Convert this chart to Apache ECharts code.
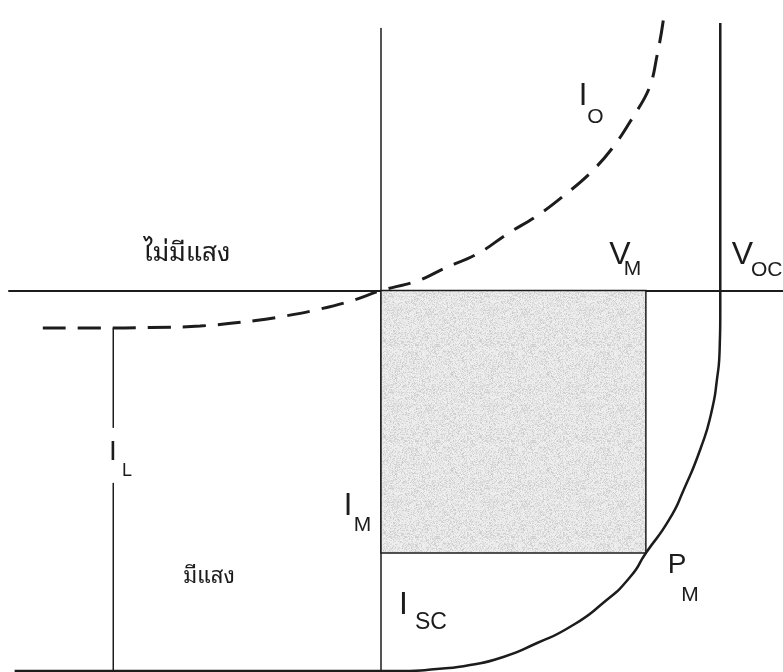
<!DOCTYPE html>
<html>
<head>
<meta charset="utf-8">
<script src="https://cdn.jsdelivr.net/npm/echarts@6/dist/echarts.min.js"></script>
<style>
  html, body { margin: 0; padding: 0; background: #ffffff; }
  #chart { width: 783px; height: 672px; }
</style>
</head>
<body>
<div id="chart"></div>
<script>
// Solar cell I-V characteristic: dark (ไม่มีแสง) and illuminated (มีแสง) curves.
// Voltage in volts, current in mA (positive upward).

// Dark diode current I_O (dashed)
const darkV = [-0.600, -0.499, -0.410, -0.321, -0.222, -0.170, -0.112, -0.051, 0.000,
               0.064, 0.112, 0.172, 0.224, 0.279, 0.326, 0.373, 0.412, 0.446, 0.476,
               0.490, 0.501, 0.502];
const darkI = [-3.55, -3.55, -3.50, -3.36, -2.84, -2.41, -1.80, -0.95, 0.00,
               0.90, 2.08, 3.50, 5.35, 7.14, 9.04, 11.21, 13.58, 16.32, 19.16,
               22.28, 25.59, 26.54];

// Illuminated characteristic (solid), ending in the open-circuit line
const lightV = [-0.650, 0.000, 0.039, 0.099, 0.158, 0.217, 0.277, 0.335, 0.394, 0.442, 0.470,
                0.511, 0.537, 0.568, 0.586, 0.596, 0.601, 0.602, 0.602];
const lightI = [-36.00, -36.00, -36.00, -35.81, -35.43, -34.67, -33.35, -31.84, -29.57, -27.11, -24.84,
                -21.71, -18.87, -14.81, -11.59, -8.47, -5.35, -2.00, 25.30];

// Key operating values
const vOC = 0.602;          // open-circuit voltage
const vM = 0.470;           // voltage at maximum power
const iM = -24.84;          // current at maximum power
const iSC = -36.00;         // short-circuit current
const iLVoltage = -0.475;   // where the photocurrent I_L is marked
const iLTop = -3.50;        // dark saturation level
const iLGapTop = -13.0;     // break in the I_L line for its label
const iLGapBottom = -18.2;

// Axis ranges
const vRange = [-0.66, 0.7133];
const iRange = [iSC, 24.8];

const pairs = (xs, ys) => xs.map((x, k) => [x, ys[k]]);

const INK = '#1c1c1c';
const LATIN = "'Liberation Sans', Arial, Helvetica, sans-serif";
const THAI = "'Noto Sans Thai Looped', Loma, Garuda, 'Noto Sans Thai', 'Noto Sans', 'DejaVu Sans', sans-serif";

// Stippled grey fill for the power rectangle (fixed integer hash, same grain every time)
function stipple() {
  const size = 96;
  const cv = document.createElement('canvas');
  cv.width = size; cv.height = size;
  const ctx = cv.getContext('2d');
  const img = ctx.createImageData(size, size);
  for (let y = 0; y < size; y++) {
    for (let x = 0; x < size; x++) {
      let h = Math.imul(x + 1, 0x27d4eb2d) ^ Math.imul(y + 7, 0x165667b1);
      h ^= h >>> 15; h = Math.imul(h, 0x85ebca6b);
      h ^= h >>> 13; h = Math.imul(h, 0xc2b2ae35);
      h ^= h >>> 16;
      const r = ((h >>> 0) & 0xffff) / 65535;
      const g = Math.round(240 - r * r * 38);
      const p = (y * size + x) * 4;
      img.data[p] = g; img.data[p + 1] = g; img.data[p + 2] = g; img.data[p + 3] = 255;
    }
  }
  ctx.putImageData(img, 0, 0);
  return cv;
}

function label(text, x, y, size, align, family) {
  return {
    type: 'text', x: x, y: y, z: 100,
    style: {
      text: text, fontSize: size, fontFamily: family || LATIN, fontWeight: 'normal',
      fill: INK, align: align || 'center', verticalAlign: 'middle'
    }
  };
}

const chart = echarts.init(document.getElementById('chart'), null, { renderer: 'canvas' });

chart.setOption({
  animation: false,
  backgroundColor: '#ffffff',
  grid: { left: 9, width: 774, top: 28.4, height: 642.6, containLabel: false },
  xAxis: {
    type: 'value', min: vRange[0], max: vRange[1],
    axisLine: { show: true, onZero: true, lineStyle: { color: INK, width: 2 } },
    axisTick: { show: false }, axisLabel: { show: false }, splitLine: { show: false }
  },
  yAxis: {
    type: 'value', min: iRange[0], max: iRange[1],
    axisLine: { show: true, onZero: true, lineStyle: { color: INK, width: 1.5 } },
    axisTick: { show: false }, axisLabel: { show: false }, splitLine: { show: false }
  },
  series: [
    {
      // maximum-power rectangle V_M x I_M
      type: 'line', z: 1, symbol: 'none', silent: true,
      data: [[0, 0]], lineStyle: { width: 0 },
      markArea: {
        silent: true,
        itemStyle: {
          color: { image: stipple(), repeat: 'repeat' },
          borderColor: INK, borderWidth: 1.5
        },
        data: [[{ coord: [0, 0] }, { coord: [vM, iM] }]]
      }
    },
    {
      // I_L photocurrent marker (upper and lower parts around its label)
      type: 'line', z: 3, symbol: 'none', silent: true, clip: false,
      data: [[iLVoltage, iLTop], [iLVoltage, iLGapTop]],
      lineStyle: { color: INK, width: 1.5 }
    },
    {
      type: 'line', z: 3, symbol: 'none', silent: true, clip: false,
      data: [[iLVoltage, iLGapBottom], [iLVoltage, iSC]],
      lineStyle: { color: INK, width: 1.5 }
    },
    {
      // dark current I_O
      type: 'line', z: 4, symbol: 'none', silent: true, clip: false, smooth: 0.4,
      data: pairs(darkV, darkI),
      lineStyle: { color: INK, width: 3, type: [23, 12] }
    },
    {
      // illuminated characteristic through P_M up to V_OC
      type: 'line', z: 5, symbol: 'none', silent: true, clip: false, smooth: 0.6,
      data: pairs(lightV, lightI),
      lineStyle: { color: INK, width: 2.5 }
    }
  ],
  graphic: [
    label('ไม่มีแสง', 187, 254, 26, 'center', THAI),
    label('มีแสง', 209, 577, 22, 'center', THAI),
    label('I', 583, 96.5, 31), label('O', 595.5, 117.5, 21),
    label('V', 620, 255.5, 32), label('M', 632.5, 269.5, 21),
    label('V', 742.5, 255.5, 32), label('OC', 751, 270.5, 21, 'left'),
    label('I', 113, 452.5, 28), label('L', 127, 471, 18),
    label('I', 348, 506, 31), label('M', 362.5, 525.5, 21),
    label('I', 403.5, 605, 32), label('SC', 431, 622.5, 23),
    label('P', 677, 565, 28), label('M', 690, 595, 21)
  ]
});
</script>
</body>
</html>
